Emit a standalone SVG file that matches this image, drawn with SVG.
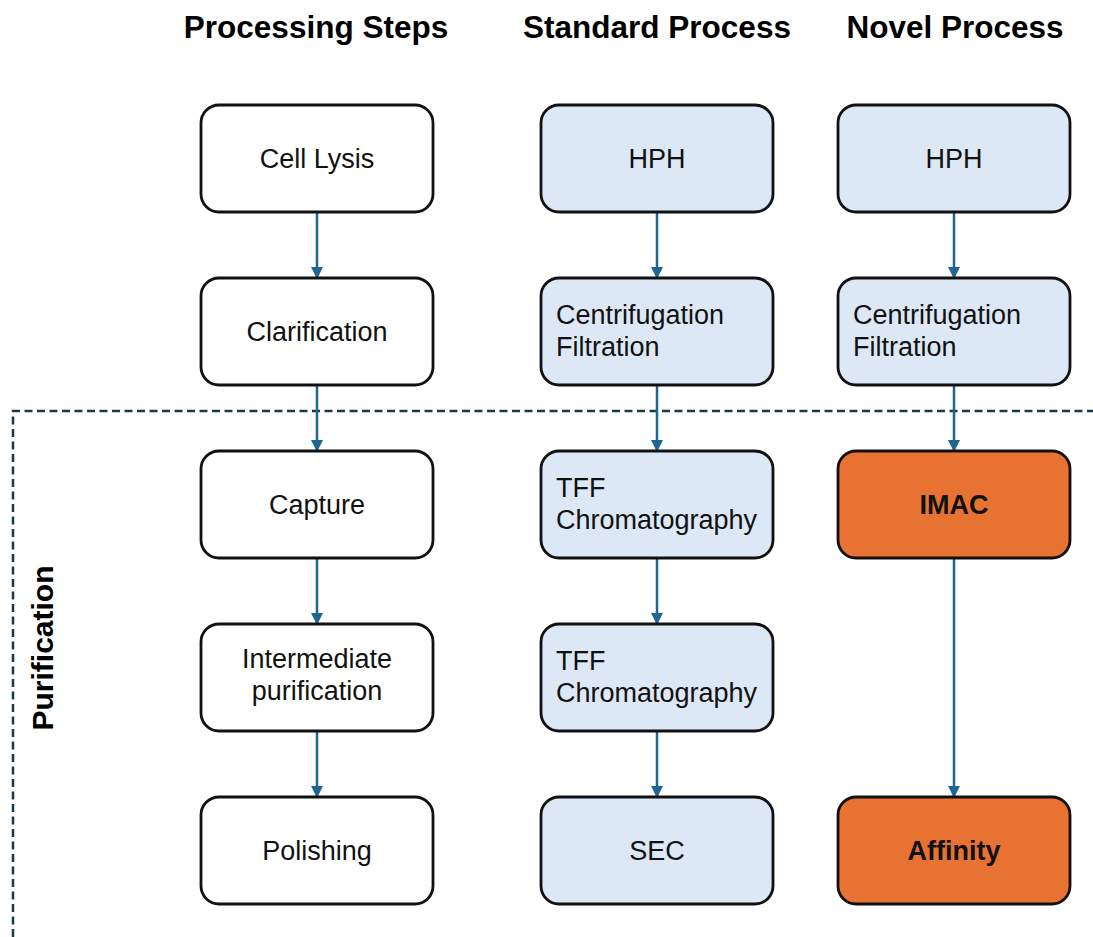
<svg xmlns="http://www.w3.org/2000/svg" width="1093" height="937" viewBox="0 0 1093 937">
<style>
.box{stroke:#111;stroke-width:2.8}
.w{fill:#fff}.b{fill:#dce8f5}.o{fill:#e87232}
.t{font-family:"Liberation Sans",Arial,sans-serif;font-size:27px;fill:#111}
.c{text-anchor:middle}
.bold{font-weight:bold}
.h{font-family:"Liberation Sans",Arial,sans-serif;font-size:31.5px;font-weight:bold;fill:#000;text-anchor:middle}
.con line{stroke:#1f6690;stroke-width:2.5}
</style>
<defs>
<marker id="ah" markerWidth="12" markerHeight="12" refX="10" refY="6" orient="auto" markerUnits="userSpaceOnUse">
<path d="M0,0 L12,6 L0,12 Z" fill="#1f6690"/>
</marker>
</defs>
<rect width="1093" height="937" fill="#fff"/>
<text class="h" x="316" y="38">Processing Steps</text>
<text class="h" x="657" y="38">Standard Process</text>
<text class="h" x="955" y="38">Novel Process</text>
<path d="M13,937 L13,411 L1093,411" fill="none" stroke="#1a3a4a" stroke-width="2.5" stroke-dasharray="8,4.5"/>
<text class="h" transform="translate(53,648) rotate(-90)" style="font-size:30px">Purification</text>
<g class="con">
<line x1="317" y1="213" x2="317" y2="277" marker-end="url(#ah)"/>
<line x1="317" y1="386" x2="317" y2="450" marker-end="url(#ah)"/>
<line x1="317" y1="559" x2="317" y2="623" marker-end="url(#ah)"/>
<line x1="317" y1="732" x2="317" y2="796" marker-end="url(#ah)"/>
<line x1="657" y1="213" x2="657" y2="277" marker-end="url(#ah)"/>
<line x1="657" y1="386" x2="657" y2="450" marker-end="url(#ah)"/>
<line x1="657" y1="559" x2="657" y2="623" marker-end="url(#ah)"/>
<line x1="657" y1="732" x2="657" y2="796" marker-end="url(#ah)"/>
<line x1="954" y1="213" x2="954" y2="277" marker-end="url(#ah)"/>
<line x1="954" y1="386" x2="954" y2="450" marker-end="url(#ah)"/>
<line x1="954" y1="559" x2="954" y2="796" marker-end="url(#ah)"/>
</g>
<g id="cell-lysis"><rect class="box w" x="201" y="105" width="232" height="107" rx="18"/><text class="t c" x="317" y="168">Cell Lysis</text></g>
<g id="clarification"><rect class="box w" x="201" y="278" width="232" height="107" rx="18"/><text class="t c" x="317" y="341">Clarification</text></g>
<g id="capture"><rect class="box w" x="201" y="451" width="232" height="107" rx="18"/><text class="t c" x="317" y="514">Capture</text></g>
<g id="intermediate"><rect class="box w" x="201" y="624" width="232" height="107" rx="18"/><text class="t c" x="317" y="668">Intermediate</text><text class="t c" x="317" y="700">purification</text></g>
<g id="polishing"><rect class="box w" x="201" y="797" width="232" height="107" rx="18"/><text class="t c" x="317" y="860">Polishing</text></g>
<g id="std-hph"><rect class="box b" x="541" y="105" width="232" height="107" rx="18"/><text class="t c" x="657" y="168">HPH</text></g>
<g id="std-cf"><rect class="box b" x="541" y="278" width="232" height="107" rx="18"/><text class="t" x="556" y="324">Centrifugation</text><text class="t" x="556" y="356">Filtration</text></g>
<g id="std-tff1"><rect class="box b" x="541" y="451" width="232" height="107" rx="18"/><text class="t" x="556" y="497">TFF</text><text class="t" x="556" y="529">Chromatography</text></g>
<g id="std-tff2"><rect class="box b" x="541" y="624" width="232" height="107" rx="18"/><text class="t" x="556" y="670">TFF</text><text class="t" x="556" y="702">Chromatography</text></g>
<g id="std-sec"><rect class="box b" x="541" y="797" width="232" height="107" rx="18"/><text class="t c" x="657" y="860">SEC</text></g>
<g id="nov-hph"><rect class="box b" x="838" y="105" width="232" height="107" rx="18"/><text class="t c" x="954" y="168">HPH</text></g>
<g id="nov-cf"><rect class="box b" x="838" y="278" width="232" height="107" rx="18"/><text class="t" x="853" y="324">Centrifugation</text><text class="t" x="853" y="356">Filtration</text></g>
<g id="nov-imac"><rect class="box o" x="838" y="451" width="232" height="107" rx="18"/><text class="t c bold" x="954" y="514">IMAC</text></g>
<g id="nov-affinity"><rect class="box o" x="838" y="797" width="232" height="107" rx="18"/><text class="t c bold" x="954" y="860">Affinity</text></g>
</svg>
